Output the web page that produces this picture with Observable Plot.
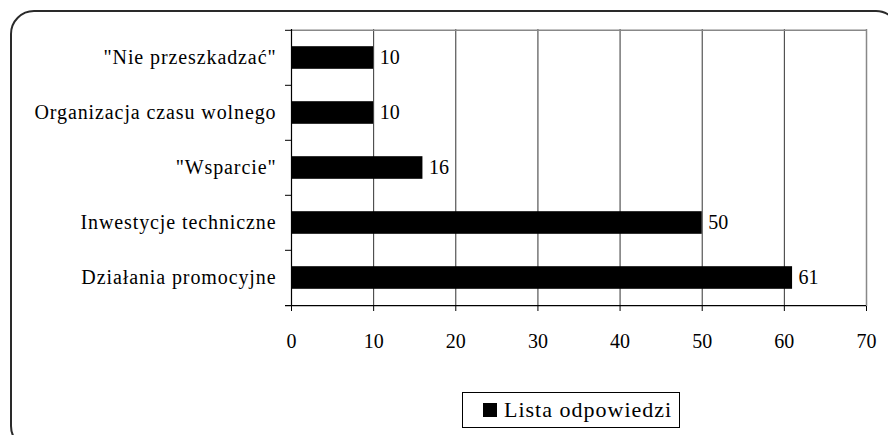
<!DOCTYPE html>
<html>
<head>
<meta charset="utf-8">
<script src="https://cdn.jsdelivr.net/npm/d3@7"></script>
<script src="https://cdn.jsdelivr.net/npm/@observablehq/plot@0.6"></script>
<style>
  html, body { margin: 0; padding: 0; background: #fff; }
  #wrap { position: relative; width: 888px; height: 435px; overflow: hidden; background: #fff; }
  #wrap, #wrap svg, #wrap svg text, #legend { font-family: "Liberation Serif", serif !important; }
  #frame { position: absolute; left: 10px; top: 10px; width: 890px; height: 440px; border: 2px solid #2a2a2a; border-radius: 24px; box-sizing: border-box; }
  #chart { position: absolute; left: 0; top: 0; }
  #legend { position: absolute; left: 462px; top: 392px; width: 218px; height: 36px; border: 1px solid #000; box-sizing: border-box; display: flex; align-items: center; font-size: 22px; letter-spacing: 1px; color: #000; background: #fff; }
  #legend .sw { width: 14px; height: 14px; background: #000; margin-left: 20px; margin-right: 7px; }
  g[aria-label="y-axis tick label"] text { letter-spacing: 0.9px; }
</style>
</head>
<body>
<div id="wrap">
  <div id="frame"></div>
  <div id="chart"></div>
  <div id="legend"><span class="sw"></span><span>Lista odpowiedzi</span></div>
</div>
<script>
const categories = ["\"Nie przeszkadzać\"", "Organizacja czasu wolnego", "\"Wsparcie\"", "Inwestycje techniczne", "Działania promocyjne"];
const values = [10, 10, 16, 50, 61];
const xTicks = [0, 10, 20, 30, 40, 50, 60, 70];
const gridTicks = [10, 20, 30, 40, 50, 60];

const data = categories.map((c, i) => ({category: c, value: values[i]}));

const W = 888, H = 370;
const mTop = 29, mBottom = H - 306, mLeft = 291, mRight = W - 866;
const step = (306 - 29) / categories.length;
const barInset = (step - 23) / 2;
const tickLen = 6 * 70 / (866 - 291);

const chart = Plot.plot({
  width: W,
  height: H,
  marginTop: mTop,
  marginBottom: mBottom,
  marginLeft: mLeft,
  marginRight: mRight,
  style: {fontFamily: "Liberation Serif", fontSize: "20px", color: "#000", background: "transparent"},
  x: {domain: [0, 70], ticks: xTicks, label: null},
  y: {domain: categories, padding: 0, label: null},
  marks: [
    Plot.ruleX(gridTicks, {stroke: "#333", strokeWidth: 1}),
    Plot.ruleX([70], {stroke: "#888", strokeWidth: 1.5}),
    Plot.ruleY([categories[0]], {x1: 0, x2: 70, dy: -step / 2, stroke: "#888", strokeWidth: 1.5}),
    Plot.barX(data, {y: "category", x: "value", fill: "#000", insetTop: barInset, insetBottom: barInset}),
    Plot.text(data, {y: "category", x: "value", text: d => String(d.value), textAnchor: "start", dx: 6, fill: "#000", fontSize: 20}),
    Plot.ruleY(categories, {x1: -tickLen, x2: 0, dy: -step / 2, stroke: "#000"}),
    Plot.ruleY([categories[categories.length - 1]], {x1: -tickLen, x2: 70, dy: step / 2, stroke: "#000", strokeWidth: 1.2}),
    Plot.ruleX([0], {stroke: "#000", strokeWidth: 1.2}),
    Plot.axisX({ticks: xTicks, tickSize: 5, tickPadding: 22, fontSize: 20, stroke: "#000"}),
    Plot.axisY({tickSize: 0, tickPadding: 15, fontSize: 20})
  ]
});
document.getElementById("chart").appendChild(chart);
</script>
</body>
</html>
